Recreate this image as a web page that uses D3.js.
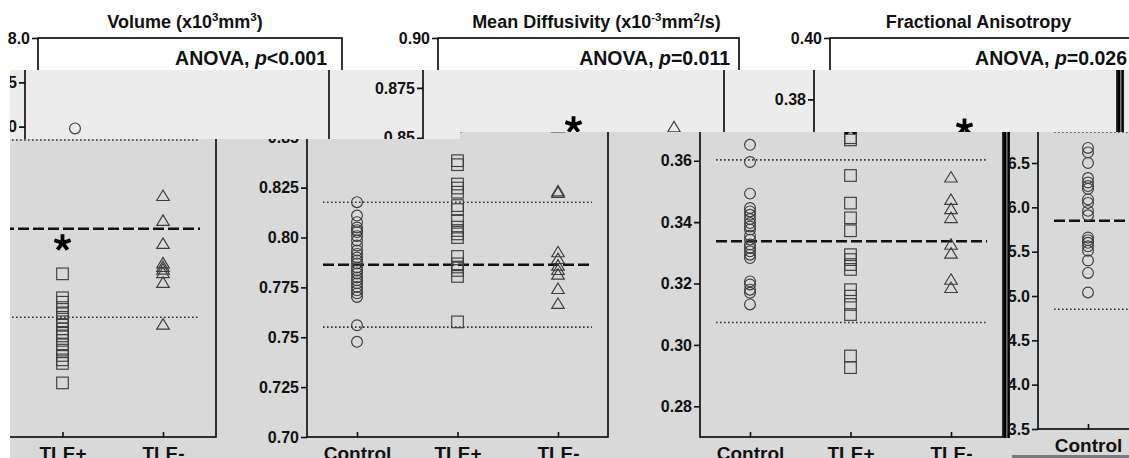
<!DOCTYPE html>
<html><head><meta charset="utf-8">
<script src="https://cdn.jsdelivr.net/npm/d3@7"></script>
<style>
body{margin:0;background:#fff;}
svg{display:block;font-family:"Liberation Sans",Arial,Helvetica,sans-serif;font-weight:bold;}
</style>
</head><body>
<svg id="c" width="1129" height="458"></svg>
<script>
// ---------------- data ----------------
const categories = ["Control", "TLE+", "TLE-"];

const volumeControl = [6.98, 6.67, 6.62, 6.50, 6.33, 6.28, 6.24, 6.21, 6.09, 6.05, 5.96, 5.91, 5.66, 5.63, 5.60, 5.56, 5.51, 5.40, 5.26, 5.04];
const volumeTLEpos  = [5.34, 5.07, 5.02, 4.96, 4.90, 4.85, 4.80, 4.76, 4.72, 4.68, 4.64, 4.59, 4.54, 4.48, 4.42, 4.37, 4.33, 4.11];
const volumeTLEneg  = [6.22, 5.94, 5.68, 5.46, 5.42, 5.39, 5.35, 5.24, 4.77];

const mdControl = [0.8177, 0.811, 0.8077, 0.805, 0.8037, 0.8027, 0.8007, 0.7985, 0.796, 0.7935, 0.7918, 0.790, 0.7885, 0.787, 0.785, 0.7835, 0.782, 0.780, 0.7785, 0.777, 0.7752, 0.7735, 0.772, 0.7702, 0.756, 0.7477];
const mdTLEpos  = [0.8385, 0.8365, 0.8268, 0.8248, 0.8227, 0.816, 0.814, 0.8085, 0.8052, 0.8035, 0.8018, 0.800, 0.7905, 0.7868, 0.7852, 0.7835, 0.7805, 0.7577];
const mdTLEneg  = [0.8553, 0.8232, 0.8225, 0.7927, 0.7893, 0.786, 0.7838, 0.7815, 0.7743, 0.7668];

const faControl = [0.3652, 0.3596, 0.3493, 0.3446, 0.3435, 0.3424, 0.341, 0.3397, 0.3386, 0.3376, 0.3356, 0.3343, 0.3327, 0.3316, 0.3305, 0.3294, 0.3283, 0.3207, 0.3197, 0.318, 0.317, 0.3132];
const faTLEpos  = [0.3675, 0.3668, 0.3552, 0.3462, 0.3414, 0.3372, 0.3294, 0.3278, 0.3262, 0.3246, 0.318, 0.3159, 0.3132, 0.3099, 0.2964, 0.2926];
const faTLEneg  = [0.3546, 0.3473, 0.3443, 0.3414, 0.3327, 0.3298, 0.3213, 0.3186];

const controlMeans = [5.85, 0.7864, 0.3338];
const controlBands = [1.0, 0.0313, 0.0265];   // +/- 2 SD lines
const asteriskValues = [5.69, 0.8565, 0.371];   // above TLE+

const volumeTicks = [3.5, 4.0, 4.5, 5.0, 5.5, 6.0, 6.5, 7.0, 7.5, 8.0];
const mdTicks = [0.70, 0.725, 0.75, 0.775, 0.80, 0.825, 0.85, 0.875, 0.90];
const faTicks = [0.28, 0.30, 0.32, 0.34, 0.36, 0.38, 0.40];

const anovaP = ["<0.001", "=0.011", "=0.026"];
const titleParts = [
  [["Volume (x10", 0], ["3", 1], ["mm", 0], ["3", 1], [")", 0]],
  [["Mean Diffusivity (x10", 0], ["-3", 1], ["mm", 0], ["2", 1], ["/s)", 0]],
  [["Fractional Anisotropy", 0]]
];

// ---------------- layout ----------------
const W = 1129, H = 458, TOP = 38, BOTTOM = 437;
const domains = [[3.5, 8.0], [0.70, 0.90], [0.27, 0.40]];
const ticks = [volumeTicks, mdTicks, faTicks];
const series = [
  [volumeControl, volumeTLEpos, volumeTLEneg],
  [mdControl, mdTLEpos, mdTLEneg],
  [faControl, faTLEpos, faTLEneg]
];
const fmts = [
  d3.format(".1f"),
  v => { let s = d3.format(".3f")(v); return s.endsWith("0") ? s.slice(0, -1) : s; },
  d3.format(".2f")
];
const panelWidths = [304, 301, 303];
const titleShift = [-5, 8, -3];
const anovaInset = [15, 9, 6];

const svg = d3.select("#c");
const INK = "#111";
const PTS = "#3e3e3e";
const FONT = "Liberation Sans, Arial, sans-serif";

function asteriskPath(r) {
  let d = "";
  for (let i = 0; i < 5; i++) {
    const a = -Math.PI / 2 + i * 2 * Math.PI / 5;
    d += `M0,0L${(r * Math.cos(a)).toFixed(2)},${(r * Math.sin(a)).toFixed(2)}`;
  }
  return d;
}

function panel(g, k, x0, dy, b) {
  const pw = panelWidths[k];
  const y = d3.scaleLinear().domain(domains[k]).range([BOTTOM + dy, TOP + dy]);
  const x = d3.scalePoint().domain(categories).range([x0 + 50, x0 + 251]);
  const inY = v => v >= b.y0 - 10 && v <= b.y1 + 10;
  const inX = v => v >= b.x0 - 30 && v <= b.x1 + 30;

  // reference lines
  [controlMeans[k] - controlBands[k], controlMeans[k] + controlBands[k]].forEach(v => {
    g.append("line").attr("x1", x0 + 16).attr("x2", x0 + pw - 16)
      .attr("y1", y(v)).attr("y2", y(v))
      .attr("stroke", "#333").attr("stroke-width", 1.6).attr("stroke-dasharray", "1.6,2.4");
  });
  g.append("line").attr("x1", x0 + 16).attr("x2", x0 + pw - 16)
    .attr("y1", y(controlMeans[k])).attr("y2", y(controlMeans[k]))
    .attr("stroke", INK).attr("stroke-width", 2.5).attr("stroke-dasharray", "11,4");

  // points
  const [ctl, pos, neg] = series[k];
  g.selectAll(null).data(ctl).join("circle")
    .attr("cx", x("Control")).attr("cy", d => y(d)).attr("r", 5.4)
    .attr("fill", "none").attr("stroke", PTS).attr("stroke-width", 1.15);
  g.selectAll(null).data(pos).join("rect")
    .attr("x", x("TLE+") - 5.8).attr("y", d => y(d) - 5.8).attr("width", 11.6).attr("height", 11.6)
    .attr("fill", "none").attr("stroke", PTS).attr("stroke-width", 1.15);
  g.selectAll(null).data(neg).join("path")
    .attr("d", "M0,-5.8L6.3,4.7L-6.3,4.7Z")
    .attr("transform", d => `translate(${x("TLE-")},${y(d)})`)
    .attr("fill", "none").attr("stroke", PTS).attr("stroke-width", 1.15);

  // asterisk
  g.append("path").attr("d", asteriskPath(8.5))
    .attr("transform", `translate(${x("TLE+")},${y(asteriskValues[k])})`)
    .attr("stroke", "#000").attr("stroke-width", 3.8).attr("fill", "none");

  // box
  g.append("rect").attr("x", x0).attr("y", TOP + dy).attr("width", pw).attr("height", BOTTOM - TOP)
    .attr("fill", "none").attr("stroke", INK).attr("stroke-width", 1.7);
  if (k === 2) {
    [[x0 + 305, 3], [x0 + 308.6, 2.6]].forEach(([bx, w]) =>
      g.append("line").attr("x1", bx).attr("x2", bx).attr("y1", TOP + dy).attr("y2", BOTTOM + dy + 1)
        .attr("stroke", "#000").attr("stroke-width", w));
  }

  // y axis (only ticks that fall in this piece of the picture)
  if (x0 >= b.x0) {
    const tv = ticks[k].filter(v => inY(y(v)));
    const ya = g.append("g").attr("transform", `translate(${x0},0)`)
      .call(d3.axisLeft(y).tickValues(tv).tickFormat(fmts[k]).tickSize(6).tickSizeOuter(0).tickPadding(2));
    ya.select(".domain").remove();
    ya.selectAll("line").attr("stroke", INK).attr("stroke-width", 1.6);
    ya.selectAll("text").attr("font-size", 16).attr("fill", "#111").attr("font-weight", "bold")
      .attr("font-family", FONT);
  }

  // x axis
  if (inY(BOTTOM + dy + 12)) {
    const cv = categories.filter(c => inX(x(c)));
    const xa = g.append("g").attr("transform", `translate(0,${BOTTOM + dy})`)
      .call(d3.axisBottom(x).tickValues(cv).tickSizeInner(-5).tickSizeOuter(0).tickPadding(9.5));
    xa.select(".domain").remove();
    xa.selectAll("line").attr("stroke", INK).attr("stroke-width", 1.6);
    xa.selectAll("text").attr("font-size", 19).attr("fill", "#111").attr("font-weight", "bold")
      .attr("font-family", FONT);
  }

  if (inY(TOP + dy - 16)) {
    // title
    const t = g.append("text").attr("x", x0 + pw / 2 + titleShift[k]).attr("y", TOP - 10 + dy)
      .attr("text-anchor", "middle").attr("font-size", 18).attr("fill", "#111");
    let prevSup = false;
    titleParts[k].forEach(([s, sup]) => {
      const ts = t.append("tspan").text(s);
      if (sup) ts.attr("font-size", 11.5).attr("dy", -7);
      else if (prevSup) ts.attr("dy", 7);
      prevSup = !!sup;
    });

    // ANOVA
    const a = g.append("text").attr("x", x0 + pw - anovaInset[k]).attr("y", TOP + 27 + dy)
      .attr("text-anchor", "end").attr("font-size", 19.5).attr("fill", "#111");
    a.append("tspan").text("ANOVA, ");
    a.append("tspan").attr("font-style", "italic").text("p");
    a.append("tspan").text(anovaP[k]);
  }
}

function layer(id, d, bounds, bg, xs, dy) {
  svg.append("clipPath").attr("id", id).append("path").attr("d", d);
  const g = svg.append("g").attr("clip-path", `url(#${id})`);
  g.append("rect").attr("x", bounds.x0).attr("y", bounds.y0)
    .attr("width", bounds.x1 - bounds.x0).attr("height", bounds.y1 - bounds.y0).attr("fill", bg);
  xs.forEach((x0, k) => { if (x0 !== null) panel(g.append("g"), k, x0, dy, bounds); });
}

svg.append("rect").attr("width", W).attr("height", H).attr("fill", "#fff");
// top strip
layer("la", `M0,0H${W}V70H0Z`, {x0: 0, x1: W, y0: 0, y1: 70}, "#ffffff", [38, 438, 830], 0);
// middle strip
layer("lb", `M10,70H${W}V132H460V139H10Z`, {x0: 10, x1: W, y0: 70, y1: 139}, "#ececec", [25, 423, 814], 0);
// main lower block
layer("lc", `M10,139H460V132H1010V${H}H10Z`, {x0: 10, x1: 1010, y0: 132, y1: H}, "#d9d9d9", [-88, 307, 700], 0);
// wrapped piece at right
layer("ld", `M1010,132H${W}V${H}H1010Z`, {x0: 1010, x1: W, y0: 132, y1: H}, "#d9d9d9", [1038, null, null], -8);
// dark bottom strip
svg.append("rect").attr("x", 1012).attr("y", 455).attr("width", W - 1012).attr("height", 3).attr("fill", "#7a7a7a");
</script>
</body></html>
